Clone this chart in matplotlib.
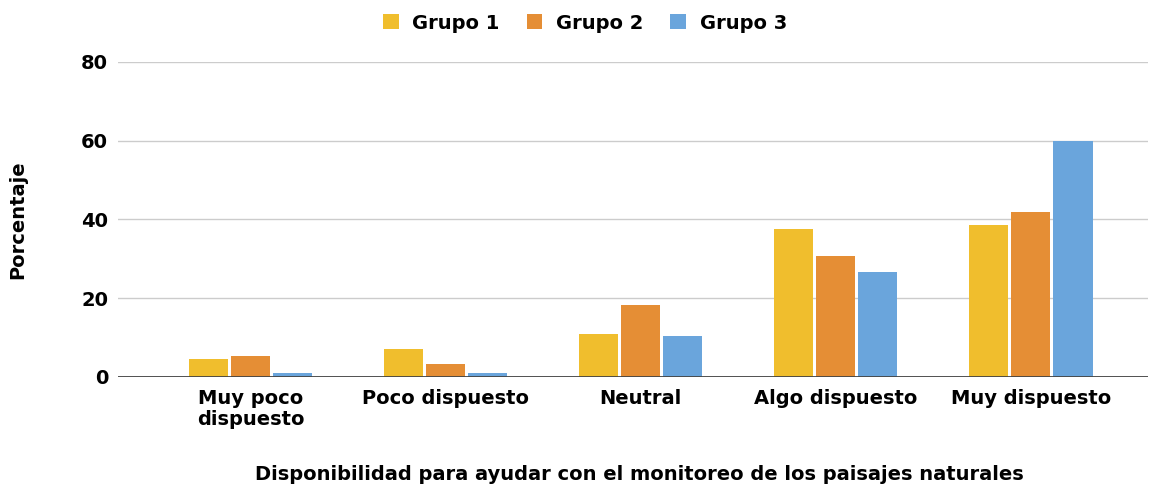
import numpy as np
import matplotlib.pyplot as plt

categories = ["Muy poco\ndispuesto", "Poco dispuesto", "Neutral", "Algo dispuesto", "Muy dispuesto"]
grupo1 = [4.6, 7.0, 10.9, 37.5, 38.6]
grupo2 = [5.4, 3.3, 18.2, 30.8, 41.9]
grupo3 = [1.1, 1.1, 10.5, 26.6, 60.0]
series_names = ["Grupo 1", "Grupo 2", "Grupo 3"]
colors = ["#F0BE2D", "#E58E35", "#6AA5DC"]

plt.rcParams['font.family'] = ['DejaVu Sans']
plt.rcParams['font.weight'] = 'bold'

fig = plt.figure(figsize=(11.56, 4.92), dpi=100)
ax = fig.add_axes([0.102, 0.234, 0.891, 0.640])

# grouped bars, one offset per group
x = np.arange(len(categories))
step = 0.216
width = 0.2
for i, (vals, name, c) in enumerate(zip([grupo1, grupo2, grupo3], series_names, colors)):
    ax.bar(x + (i - 1) * step, vals, width=width, color=c, label=name, zorder=3)

ax.set_ylim(0, 80)
ax.set_xlim(-0.68, 4.6)
ax.set_yticks([0, 20, 40, 60, 80])
ax.yaxis.grid(True, color="#cccccc", linewidth=1, zorder=0)
ax.axhline(0, color="#444444", linewidth=1.3, zorder=4)
for s in ax.spines.values():
    s.set_visible(False)
ax.tick_params(axis="both", length=0, labelsize=14)
ax.tick_params(axis="y", pad=7)
ax.tick_params(axis="x", pad=9, labelsize=14)
ax.set_xticks(x)
ax.set_xticklabels(categories, fontweight="bold", linespacing=1.1)
for lab in ax.get_yticklabels():
    lab.set_fontweight("bold")

ax.set_ylabel("Porcentaje", fontsize=14, fontweight="bold")
ax.yaxis.set_label_coords(-0.088, 0.5)
fig.text(0.553, 0.035, "Disponibilidad para ayudar con el monitoreo de los paisajes naturales",
         ha="center", va="center", fontsize=14, fontweight="bold")

leg = fig.legend(loc="upper center", bbox_to_anchor=(0.506, 1.008), ncol=3, frameon=False,
                 fontsize=14, handlelength=0.8, handleheight=0.8, columnspacing=1.4,
                 handletextpad=0.7)

plt.savefig("out.png", dpi=100)
